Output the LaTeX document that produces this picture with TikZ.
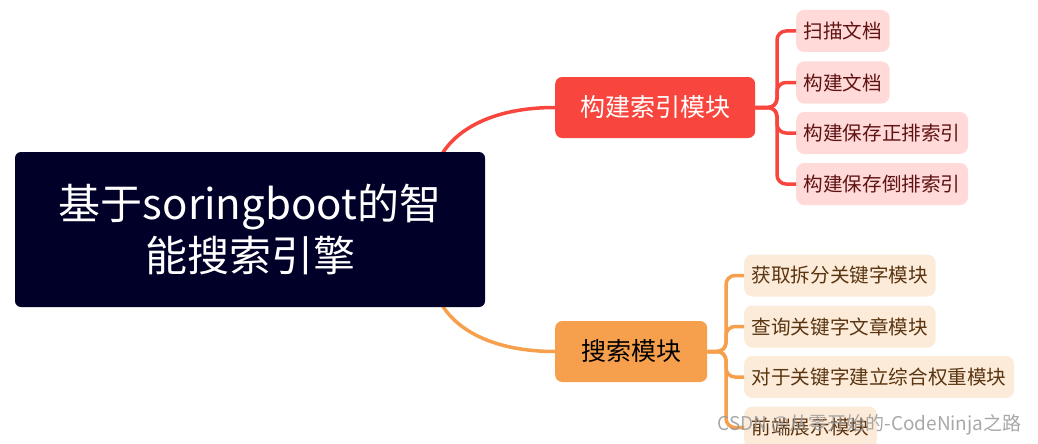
\documentclass[tikz,border=0pt]{standalone}
\usepackage{fontspec}
\setmainfont{Noto Sans CJK SC}
\usetikzlibrary{calc}
\definecolor{rootc}{HTML}{000028}
\definecolor{redc}{HTML}{F8453D}
\definecolor{orac}{HTML}{F6A04D}
\definecolor{redl}{HTML}{FFDAD8}
\definecolor{oral}{HTML}{FDEBDA}
\definecolor{redt}{HTML}{5E1212}
\definecolor{orat}{HTML}{5A3510}
\tikzset{
  rootbox/.style={fill=rootc, text=white, rounded corners=6pt, minimum width=470pt, minimum height=155pt, align=center, font=\fontsize{42}{52}\selectfont, inner sep=0pt},
  midbox/.style={rounded corners=7pt, minimum height=61pt, inner xsep=25pt, inner ysep=0pt, font=\fontsize{25}{30}\selectfont, anchor=west},
  leafbox/.style={rounded corners=8pt, minimum height=42pt, inner xsep=7.5pt, inner ysep=0pt, font=\fontsize{19.6}{24}\selectfont, anchor=west},
  redleaf/.style={leafbox, fill=redl, text=redt},
  oraleaf/.style={leafbox, fill=oral, text=orat},
  redline/.style={draw=redc, line width=3.5pt, rounded corners=9pt},
  oraline/.style={draw=orac, line width=3.5pt, rounded corners=9pt},
}
\begin{document}
\begin{tikzpicture}[x=1pt,y=-1pt]
\useasboundingbox (0,0) rectangle (1038,444);
% curved connectors from the root (drawn first, root box covers their start)
\coordinate (rootTop) at (442,154);
\coordinate (rootBot) at (442,305);
\draw[redc, line width=3.5pt] (rootTop) .. controls (458,128) and (495,107.5) .. (555,107.5);
\draw[orac, line width=3.5pt] (rootBot) .. controls (458,331) and (495,351.5) .. (555,351.5);

\node[rootbox] (root) at (250,229.5) {基于soringboot的智\\能搜索引擎};
\node[midbox, fill=redc, text=white] (build) at (555,107.5) {构建索引模块};
\node[midbox, fill=orac, text=black, inner xsep=26pt] (search) at (555,351.5) {搜索模块};

\node[redleaf] (r1) at (796,31) {扫描文档};
\node[redleaf] (r2) at (796,82.5) {构建文档};
\node[redleaf] (r3) at (796,133) {构建保存正排索引};
\node[redleaf] (r4) at (796,184) {构建保存倒排索引};

\node[oraleaf] (o1) at (744,275.5) {获取拆分关键字模块};
\node[oraleaf] (o2) at (744,326.5) {查询关键字文章模块};
\node[oraleaf] (o3) at (744,377) {对于关键字建立综合权重模块};
\node[oraleaf] (o4) at (744,427.5) {前端展示模块};

\foreach \c in {r1,r2,r3,r4}{
  \draw[redline] (build.east) -- (777,107.5) |- (\c.west);
}
\foreach \c in {o1,o2,o3,o4}{
  \draw[oraline] (search.east) -- (726,351.5) |- (\c.west);
}
\node[text=gray!80, opacity=0.85, font=\fontsize{19}{21}\selectfont, inner sep=0pt] (wm) at (869.5,425) {CSDN @从零开始的-CodeNinja之路};
\end{tikzpicture}
\end{document}
